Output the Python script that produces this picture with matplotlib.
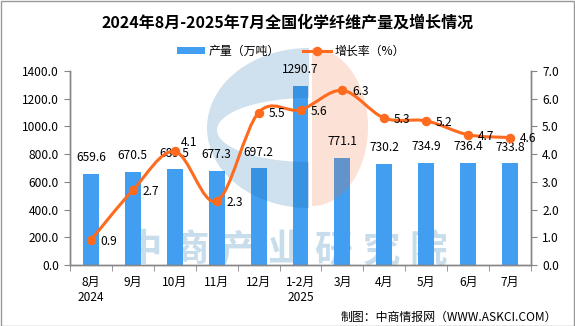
import numpy as np
import matplotlib
matplotlib.use("Agg")
import matplotlib.pyplot as plt
from matplotlib.path import Path
from matplotlib.patches import PathPatch, Polygon, Rectangle
from matplotlib.lines import Line2D

plt.rcParams['font.family'] = ['Noto Sans CJK SC', 'DejaVu Sans']

# Monthly data
months = ['8月\n2024', '9月', '10月', '11月', '12月', '1-2月\n2025',
          '3月', '4月', '5月', '6月', '7月']
output = [659.6, 670.5, 689.5, 677.3, 697.2, 1290.7, 771.1, 730.2, 734.9, 736.4, 733.8]
growth = [0.9, 2.7, 4.1, 2.3, 5.5, 5.6, 6.3, 5.3, 5.2, 4.7, 4.6]

left_ticks = [0, 200, 400, 600, 800, 1000, 1200, 1400]
right_ticks = [0, 1, 2, 3, 4, 5, 6, 7]

BAR = '#419ef0'
LINE = '#fe6a1e'
SPINE = '#868686'
FS = 8.6
LW = 2.2
MS = 5.8

W, H = 575, 326
fig = plt.figure(figsize=(W / 100, H / 100), dpi=100)
fig.patch.set_facecolor('white')


def px(x, y):
    """pixel (from top-left) -> figure fraction"""
    return (x / W, 1 - y / H)


ax = fig.add_axes([70 / W, 1 - 265 / H, (531 - 70) / W, (265 - 71) / H])
ax2 = ax.twinx()
ax.set_zorder(1)
ax2.set_zorder(2)
ax.patch.set_visible(False)
ax2.patch.set_visible(False)

x = np.arange(len(months))

# watermark text behind the bars
wm = '中商产业研究院'
for i, ch in enumerate(wm):
    cx = 143 + i * 47.6
    ax.text(*px(cx, 250), ch, transform=fig.transFigure, fontsize=27,
            fontweight='bold', color='#c8ddec', ha='center', va='center',
            zorder=0.5)

bars = ax.bar(x, output, width=0.38, color=BAR, zorder=2)
for xi, v in zip(x, output):
    ax.annotate(f'{v:.1f}', (xi, v), xytext=(0, 7), textcoords='offset points',
                ha='center', va='bottom', fontsize=FS, color='black', zorder=6)

# logo watermark (semi-transparent, above bars)
t = np.linspace(np.pi / 2, 3 * np.pi / 2, 80)
ocx, ocy, orx, ory = 309, 128, 102, 80
icx, icy, irx, iry = 309, 130, 92, 32
outer = [px(ocx + orx * np.cos(a), ocy - ory * np.sin(a)) for a in t]
inner = [px(icx + irx * np.cos(a), icy - iry * np.sin(a)) for a in t[::-1]]
blue_c = Polygon(outer + inner, closed=True, transform=fig.transFigure,
                 facecolor=(15 / 255, 105 / 255, 170 / 255), alpha=0.2,
                 edgecolor='none', zorder=3, clip_on=False)
ax.add_artist(blue_c)
tr = np.linspace(-np.pi / 2, np.pi / 2, 80)
peach = [px(312 + 56 * np.cos(a), 127 - 79 * np.sin(a)) for a in tr]
peach_p = Polygon(peach, closed=True, transform=fig.transFigure,
                  facecolor=(235 / 255, 105 / 255, 50 / 255), alpha=0.2,
                  edgecolor='none', zorder=3, clip_on=False)
ax.add_artist(peach_p)

# smoothed growth line
def smooth_path(xs, ys):
    pts = np.column_stack([xs, ys]).astype(float)
    n = len(pts)
    verts = [pts[0]]
    codes = [Path.MOVETO]
    for i in range(n - 1):
        p0 = pts[i - 1] if i > 0 else pts[i]
        p1 = pts[i]
        p2 = pts[i + 1]
        p3 = pts[i + 2] if i + 2 < n else pts[i + 1]
        verts += [p1 + (p2 - p0) / 6, p2 - (p3 - p1) / 6, p2]
        codes += [Path.CURVE4] * 3
    return Path(verts, codes)


ax2.add_patch(PathPatch(smooth_path(x, growth), facecolor='none',
                        edgecolor=LINE, lw=LW, zorder=3, capstyle='round'))
ax2.plot(x, growth, 'o', color=LINE, ms=MS, zorder=4)
for i, (xi, g) in enumerate(zip(x, growth)):
    if i == 2:
        off, va = (4, 2), 'bottom'
    else:
        off, va = (7, -1), 'center'
    ax2.annotate(f'{g:.1f}', (xi, g), xytext=off, textcoords='offset points',
                 ha='left', va=va, fontsize=FS, color='black', zorder=6)

# axes styling
ax.set_xlim(-0.5, len(months) - 0.5)
ax.set_ylim(0, 1400)
ax2.set_ylim(0, 7)
ax.set_yticks(left_ticks)
ax.set_yticklabels([f'{v:.1f}' for v in left_ticks], fontsize=FS)
ax2.set_yticks(right_ticks)
ax2.set_yticklabels([f'{v:.1f}' for v in right_ticks], fontsize=FS)
ax.set_xticks(x)
ax.set_xticklabels(months, fontsize=FS, linespacing=1.15)
ax.set_xticks(np.arange(-0.5, len(months)), minor=True)
ax.tick_params(axis='x', which='major', length=0, pad=8)
ax.tick_params(axis='x', which='minor', length=4, color=SPINE, direction='out')
ax.tick_params(axis='y', length=4, color=SPINE, direction='out', pad=4)
ax2.tick_params(axis='y', length=4, color=SPINE, direction='out', pad=4)

for a in (ax, ax2):
    a.spines['top'].set_visible(False)
    for s in ('left', 'right', 'bottom'):
        a.spines[s].set_color(SPINE)
        a.spines[s].set_linewidth(1)

# title, legend, source
fig.text(*px(288, 23), '2024年8月-2025年7月全国化学纤维产量及增长情况',
         fontsize=11.5, fontweight='bold', ha='center', va='center')

handles = [Rectangle((0, 0), 1, 1, facecolor=BAR, edgecolor='none'),
           Line2D([], [], color=LINE, lw=LW, marker='o', ms=MS)]
fig.legend(handles, ['产量（万吨）', '增长率（%）'], loc='center',
           bbox_to_anchor=px(291, 51), ncol=2, frameon=False, fontsize=FS,
           handlelength=2.3, handleheight=0.5, handletextpad=0.3,
           columnspacing=2.0, borderpad=0)

fig.text(*px(557, 317), '制图：中商情报网（WWW.ASKCI.COM）', fontsize=FS,
         ha='right', va='center')

# outer frame
fig.add_artist(Rectangle((0.5 / W, 0.5 / H), 1 - 1.5 / W, 1 - 1.5 / H,
                         transform=fig.transFigure, facecolor='none',
                         edgecolor='#999999', lw=1))

fig.savefig('out.png', dpi=100)
